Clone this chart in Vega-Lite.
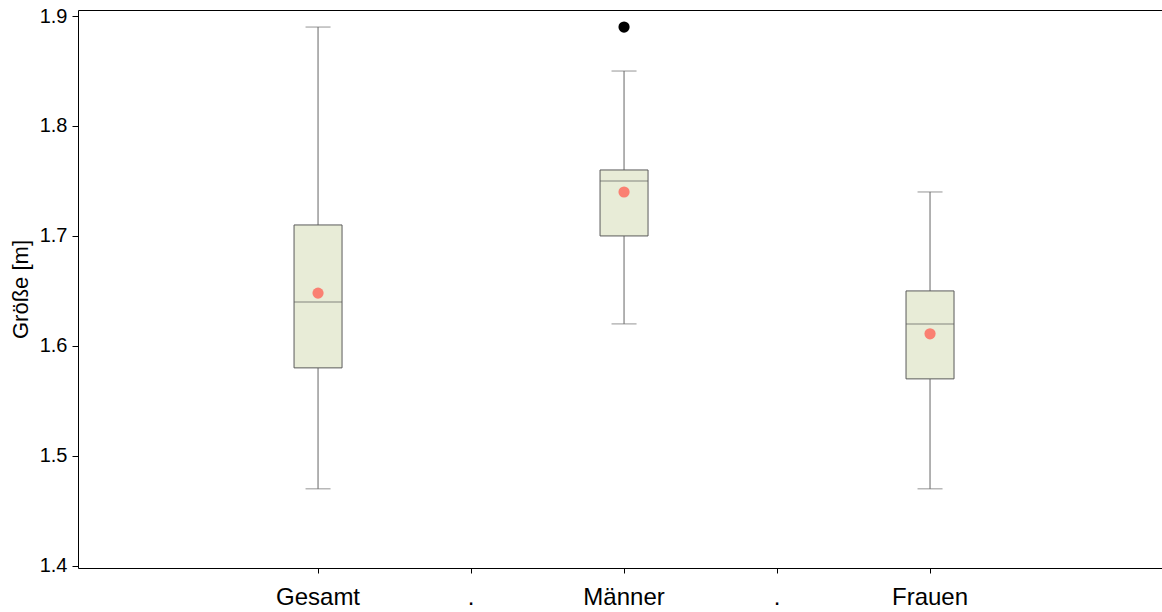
{
  "$schema": "https://vega.github.io/schema/vega-lite/v6.json",
  "width": 1084,
  "height": 558,
  "autosize": {"type": "none"},
  "padding": {"left": 78, "top": 10, "right": 0, "bottom": 44},
  "background": "white",
  "config": {
    "font": "Liberation Sans",
    "view": {"stroke": null},
    "axis": {"domainColor": "black", "tickColor": "black", "labelColor": "black", "titleColor": "black", "grid": false, "domainWidth": 1, "tickWidth": 1}
  },
  "datasets": {
    "stats": [
      {"cat": "Gesamt", "low": 1.47, "q1": 1.58, "median": 1.64, "q3": 1.71, "high": 1.89, "mean": 1.648},
      {"cat": "Männer", "low": 1.62, "q1": 1.70, "median": 1.75, "q3": 1.76, "high": 1.85, "mean": 1.74},
      {"cat": "Frauen", "low": 1.47, "q1": 1.57, "median": 1.62, "q3": 1.65, "high": 1.74, "mean": 1.611}
    ],
    "outliers": [
      {"cat": "Männer", "value": 1.89}
    ]
  },
  "resolve": {"axis": {"x": "independent"}, "scale": {"x": "shared", "y": "shared"}},
  "layer": [
    {
      "data": {"name": "stats"},
      "layer": [
        {
          "mark": {"type": "rule", "color": "#666666", "strokeWidth": 1},
          "encoding": {
            "x": {"field": "cat", "type": "nominal", "title": null,
              "scale": {"type": "band", "domain": ["p0", "Gesamt", "d1", "Männer", "d2", "Frauen", "p6"], "paddingInner": 0, "paddingOuter": 0.0425, "align": 0.81},
              "sort": null,
              "axis": {"orient": "bottom", "values": ["Gesamt", "d1", "Männer", "d2", "Frauen"], "labelAngle": 0, "labelFontSize": 24, "labelPadding": 12, "tickSize": 5, "domain": true,
                "labelExpr": "datum.value == 'd1' || datum.value == 'd2' ? '.' : datum.value"}},
            "y": {"field": "low", "type": "quantitative", "title": "Größe [m]",
              "scale": {"domain": [1.398, 1.9055], "nice": false, "zero": false},
              "axis": {"values": [1.4, 1.5, 1.6, 1.7, 1.8, 1.9], "format": ".1f", "labelFontSize": 20, "tickSize": 6, "labelPadding": 5, "titleFontSize": 22, "titleFontWeight": "normal", "titlePadding": 7, "domain": true}},
            "y2": {"field": "high"}
          }
        },
        {
          "mark": {"type": "tick", "orient": "horizontal", "color": "#666666", "size": 25, "thickness": 1},
          "encoding": {
            "x": {"field": "cat", "type": "nominal", "title": null},
            "y": {"field": "low", "type": "quantitative", "title": "Größe [m]"}
          }
        },
        {
          "mark": {"type": "tick", "orient": "horizontal", "color": "#666666", "size": 25, "thickness": 1},
          "encoding": {
            "x": {"field": "cat", "type": "nominal", "title": null},
            "y": {"field": "high", "type": "quantitative", "title": "Größe [m]"}
          }
        },
        {
          "mark": {"type": "bar", "fill": "#e8ecd7", "stroke": "#5a5a5a", "strokeWidth": 1, "size": 48},
          "encoding": {
            "x": {"field": "cat", "type": "nominal", "title": null},
            "y": {"field": "q1", "type": "quantitative", "title": "Größe [m]"},
            "y2": {"field": "q3"}
          }
        },
        {
          "mark": {"type": "tick", "orient": "horizontal", "color": "#5a5a5a", "size": 48, "thickness": 1},
          "encoding": {
            "x": {"field": "cat", "type": "nominal", "title": null},
            "y": {"field": "median", "type": "quantitative", "title": "Größe [m]"}
          }
        },
        {
          "mark": {"type": "point", "filled": true, "color": "#fa8072", "opacity": 1, "size": 125},
          "encoding": {
            "x": {"field": "cat", "type": "nominal", "title": null},
            "y": {"field": "mean", "type": "quantitative", "title": "Größe [m]"}
          }
        }
      ]
    },
    {
      "data": {"name": "outliers"},
      "mark": {"type": "point", "filled": true, "color": "black", "opacity": 1, "size": 125},
      "encoding": {
        "x": {"field": "cat", "type": "nominal", "title": null,
          "axis": {"orient": "top", "labels": false, "ticks": false, "domain": true, "title": null}},
        "y": {"field": "value", "type": "quantitative", "title": "Größe [m]"}
      }
    }
  ]
}
